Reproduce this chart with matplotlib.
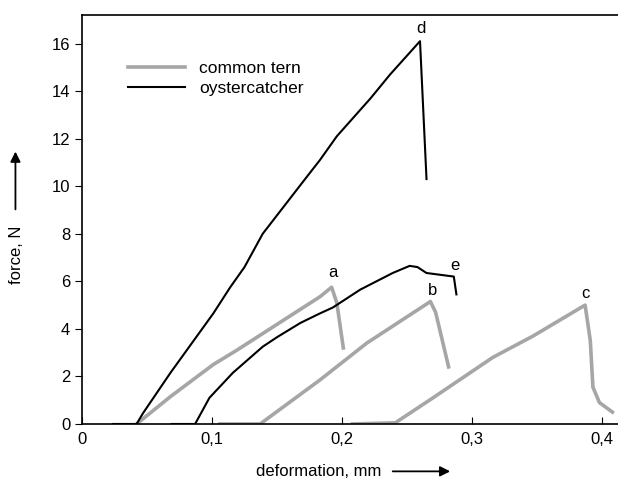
import matplotlib.pyplot as plt

plt.rcParams['font.family'] = ['Liberation Sans', 'DejaVu Sans']

# ---------------- DATA ----------------
# common tern (grey) curves a, b, c
tern_a_x = [0.042, 0.068, 0.101, 0.119, 0.183, 0.192, 0.196, 0.201]
tern_a_y = [0.0, 1.15, 2.5, 3.1, 5.35, 5.75, 5.1, 3.2]

tern_b_x = [0.106, 0.137, 0.183, 0.219, 0.268, 0.272, 0.282]
tern_b_y = [0.0, 0.0, 1.85, 3.4, 5.15, 4.7, 2.4]

tern_c_x = [0.208, 0.241, 0.270, 0.316, 0.347, 0.387, 0.391, 0.393, 0.398, 0.408]
tern_c_y = [0.0, 0.05, 1.1, 2.8, 3.7, 5.0, 3.5, 1.55, 0.9, 0.5]

# oystercatcher (black) curves d, e
oyster_d_x = [0.024, 0.042, 0.047, 0.068, 0.101, 0.114, 0.125, 0.139, 0.173,
              0.183, 0.196, 0.222, 0.237, 0.260, 0.265]
oyster_d_y = [0.0, 0.0, 0.46, 2.15, 4.65, 5.75, 6.6, 8.0, 10.4,
              11.1, 12.1, 13.7, 14.7, 16.1, 10.3]

oyster_e_x = [0.069, 0.087, 0.098, 0.116, 0.139, 0.150, 0.168, 0.183, 0.193,
              0.214, 0.239, 0.252, 0.258, 0.265, 0.286, 0.288]
oyster_e_y = [0.0, 0.0, 1.1, 2.15, 3.25, 3.65, 4.25, 4.65, 4.9,
              5.65, 6.35, 6.65, 6.6, 6.35, 6.2, 5.45]

peak_labels = ["a", "b", "c", "d", "e"]
peak_x = [0.193, 0.270, 0.387, 0.261, 0.287]
peak_y = [6.39, 5.63, 5.5, 16.64, 6.68]

xticks = [0, 0.1, 0.2, 0.3, 0.4]
xticklabels = ["0", "0,1", "0,2", "0,3", "0,4"]
yticks = [0, 2, 4, 6, 8, 10, 12, 14, 16]

# ---------------- PLOT ----------------
fig = plt.figure(figsize=(6.18, 4.80), dpi=100)
ax = fig.add_axes([0.1327, 0.1167, 0.8673, 0.852])

grey = "#a6a6a6"
ax.plot(tern_a_x, tern_a_y, color=grey, lw=2.6, label="common tern")
ax.plot(tern_b_x, tern_b_y, color=grey, lw=2.6)
ax.plot(tern_c_x, tern_c_y, color=grey, lw=2.6)
ax.plot(oyster_d_x, oyster_d_y, color="black", lw=1.5, label="oystercatcher")
ax.plot(oyster_e_x, oyster_e_y, color="black", lw=1.5)

for t, x, y in zip(peak_labels, peak_x, peak_y):
    ax.text(x, y, t, ha="center", va="center", fontsize=12)

ax.set_xlim(0, 0.4123)
ax.set_ylim(0, 17.2)
ax.set_xticks(xticks)
ax.set_xticklabels(xticklabels)
ax.set_yticks(yticks)
ax.tick_params(axis="x", direction="in", length=5, labelsize=12, pad=6)
ax.tick_params(axis="y", direction="out", length=5, labelsize=12)
ax.spines["right"].set_visible(False)
for s in ["left", "bottom", "top"]:
    ax.spines[s].set_linewidth(1.2)

ax.legend(loc="upper left", bbox_to_anchor=(0.057, 0.926), frameon=False,
          fontsize=12.5, handlelength=3.3, handletextpad=0.8, labelspacing=0.3)

# axis labels with arrows
fig.text(0.027, 0.47, "force, N", rotation=90, ha="center", va="center", fontsize=12)
ax.annotate("", xy=(0.025, 0.69), xytext=(0.025, 0.558), xycoords="figure fraction",
            arrowprops=dict(arrowstyle="-|>", color="black", lw=1.3, mutation_scale=15))
fig.text(0.515, 0.018, "deformation, mm", ha="center", va="center", fontsize=12)
ax.annotate("", xy=(0.733, 0.018), xytext=(0.631, 0.018), xycoords="figure fraction",
            arrowprops=dict(arrowstyle="-|>", color="black", lw=1.3, mutation_scale=15))

fig.savefig("out.png", dpi=100)
